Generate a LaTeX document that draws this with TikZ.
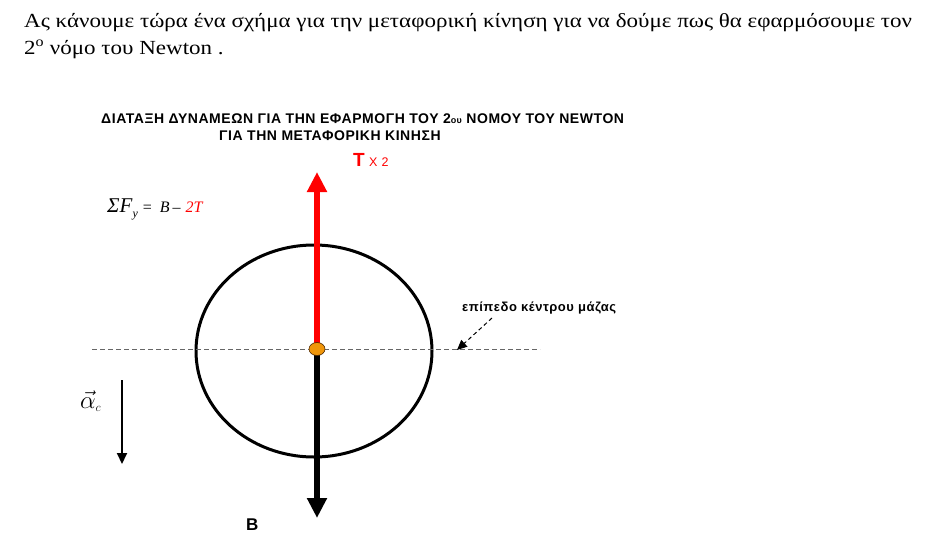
\documentclass[tikz,border=0pt]{standalone}
\usepackage{fontspec}
\setmainfont{Liberation Serif}
\newfontfamily\wideserif[FakeStretch=1.15]{Liberation Serif}
\newfontfamily\lsans[LetterSpace=4]{Liberation Sans}
\newfontfamily\lsanstight{Liberation Sans}
\usetikzlibrary{arrows.meta}
\definecolor{dotorange}{RGB}{240,150,10}
\tikzset{
  force/.style={line width=6pt,-{Triangle[width=19pt,length=20pt]}},
  guide/.style={gray!80!black,line width=1pt,dash pattern=on 5pt off 3pt},
  lbl/.style={inner sep=0pt,anchor=base west}
}
\begin{document}
\begin{tikzpicture}[x=1pt,y=-1pt]
\useasboundingbox[fill=white] (0,0) rectangle (930,549);
% top text
\node[lbl,font=\wideserif\fontsize{20}{24}\selectfont] (l1) at (24,27) {Ας κάνουμε τώρα ένα σχήμα για την μεταφορική κίνηση για να δούμε πως θα εφαρμόσουμε τον};
\node[lbl,font=\wideserif\fontsize{20}{24}\selectfont] (l2) at (24,54) {2\textsuperscript{o} νόμο του Newton .};
% title
\node[lbl,font=\lsans\bfseries\fontsize{14}{16}\selectfont] (t1) at (101,123) {ΔΙΑΤΑΞΗ ΔΥΝΑΜΕΩΝ ΓΙΑ ΤΗΝ ΕΦΑΡΜΟΓΗ ΤΟΥ 2{\fontsize{9}{10}\selectfont ου} ΝΟΜΟΥ ΤΟΥ NEWTON};
\node[lbl,font=\lsans\bfseries\fontsize{14}{16}\selectfont] (t2) at (219,140) {ΓΙΑ ΤΗΝ ΜΕΤΑΦΟΡΙΚΗ ΚΙΝΗΣΗ};
% ellipse and guide line
\draw[line width=3pt] (314,351) ellipse [x radius=118, y radius=106];
\coordinate (gl) at (92,349);
\coordinate (gr) at (540,349);
\draw[guide] (gl) -- (gr);
% forces
\coordinate (cm) at (317,349);
\coordinate (ttip) at (317,172);
\coordinate (btip) at (317,518);
\draw[force,red] ([yshift=-4]cm) -- (ttip);
\draw[force,black] ([yshift=4]cm) -- (btip);
\draw[draw=black!70!orange,fill=dotorange,line width=0.6pt] (cm) ellipse [x radius=8, y radius=6.5];
% labels
\node[lbl,text=red,font=\lsanstight\bfseries\fontsize{19}{20}\selectfont] (T) at (353,166) {T};
\node[lbl,text=red,font=\lsans\fontsize{12.5}{14}\selectfont] (x2) at (369,166) {X 2};
\node[lbl,font=\lsanstight\bfseries\fontsize{17}{20}\selectfont] (B) at (246,530) {B};
\node[lbl,font=\itshape\fontsize{16}{18}\selectfont] (sum) at (107,212) {{\fontsize{21}{22}\selectfont ΣF}\raisebox{-5pt}{\fontsize{12}{12}\selectfont y}\hspace{5pt}{\upshape =}\hspace{8pt}B\hspace{3pt}–\hspace{5pt}\textcolor{red}{2T}};
\node[lbl,font=\fontsize{24}{26}\selectfont] (ac) at (80,408) {$\vec{\alpha}_{\scriptscriptstyle c}$};
\coordinate (as) at (122,380);
\coordinate (ae) at (122,464);
\draw[line width=2pt,-{Triangle[width=10pt,length=11pt]}] (as) -- (ae);
% plane label
\node[lbl,font=\lsans\bfseries\fontsize{13}{15}\selectfont] (pl) at (462,311) {επίπεδο κέντρου μάζας};
\coordinate (ps) at (492,318);
\coordinate (pe) at (457,350);
\draw[line width=1pt,dash pattern=on 4pt off 3pt,-{Triangle[width=9pt,length=10pt]}] (ps) -- (pe);
\end{tikzpicture}
\end{document}
